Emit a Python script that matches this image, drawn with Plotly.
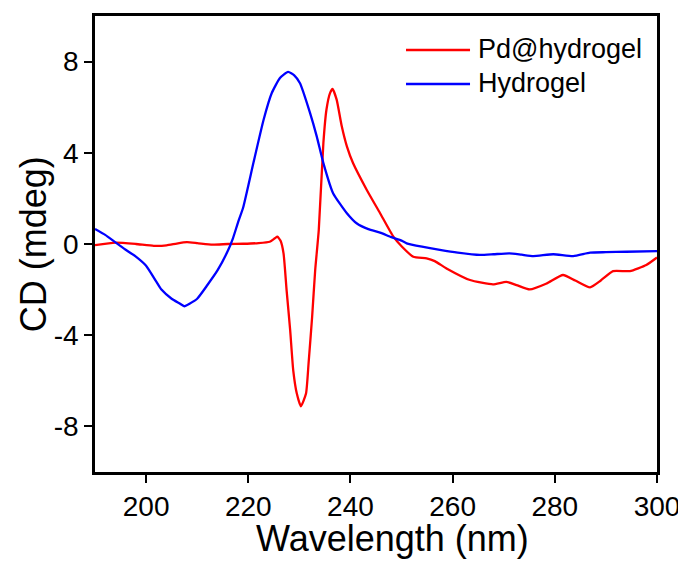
import plotly.graph_objects as go

# Wavelength (nm) and CD (mdeg) values
hydrogel_wl = [190, 192, 194, 196, 198, 200, 202, 203, 205, 206.5, 207.5, 208.5, 210, 212, 214, 216, 217,
               218, 219, 221, 223, 224.6, 226.2, 227.8, 229, 230.1, 232.1, 233.4, 234.7, 236.6, 239.3, 241.2,
               243.5, 245.8, 248, 250, 251, 254, 257.5, 261, 265.3, 268, 271.1, 273.5, 275.8, 279.7, 283.6,
               286.9, 290, 294, 300]
hydrogel_cd = [0.66, 0.40, 0.07, -0.25, -0.55, -0.95, -1.65, -2.0, -2.4, -2.6, -2.73, -2.62, -2.4, -1.8, -1.15,
               -0.3, 0.25, 0.95, 1.6, 3.55, 5.45, 6.62, 7.28, 7.55, 7.4, 7.06, 5.74, 4.72, 3.55, 2.23, 1.35, 0.91,
               0.65, 0.5, 0.3, 0.15, 0.03, -0.12, -0.26, -0.38, -0.48, -0.45, -0.41, -0.47, -0.53, -0.45, -0.53,
               -0.38, -0.36, -0.34, -0.31]

pd_wl = [190, 194, 198, 201.5, 204, 206, 208, 210, 213, 216, 219, 222, 224.2, 225.2, 225.7, 226.3, 226.9,
         227.5, 228.2, 228.8, 229.5, 230.3, 231.3, 231.8, 232.5, 233.1, 233.8, 234.7, 235.3, 236.0, 236.5,
         237.3, 238.3, 239.3, 240.5, 243.2, 245.8, 248.4, 250, 252.3, 254.9, 256.5, 258.8, 263.4, 267.9,
         270.5, 272.5, 275.1, 278.4, 281.6, 284, 286.9, 289, 291.4, 294.7, 297.9, 300]
pd_cd = [-0.05, 0.06, 0.0, -0.08, -0.06, 0.02, 0.08, 0.04, -0.03, 0.0, 0.01, 0.04, 0.1, 0.25, 0.32, 0.15, -0.41,
         -2.02, -3.78, -5.54, -6.56, -7.12, -6.56, -5.24, -3.19, -1.14, 0.62, 4.43, 5.89, 6.62, 6.8,
         6.33, 5.16, 4.28, 3.55, 2.37, 1.35, 0.32, -0.1, -0.56, -0.63, -0.75, -1.07, -1.58, -1.77,
         -1.66, -1.8, -1.99, -1.73, -1.36, -1.6, -1.9, -1.6, -1.19, -1.19, -0.92, -0.59]

x_ticks = [200, 220, 240, 260, 280, 300]
y_ticks = [-8, -4, 0, 4, 8]
y_tick_labels = ["-8", "-4", "0", "4", "8"]

series_names = ["Pd@hydrogel", "Hydrogel"]
series_colors = ["#FF0000", "#0000FF"]

FONT = "Liberation Sans, Arial, sans-serif"

fig = go.Figure()
fig.add_trace(go.Scatter(x=pd_wl, y=pd_cd, mode="lines", name=series_names[0], showlegend=False,
                         line=dict(color=series_colors[0], width=2.3, shape="spline", smoothing=0.5)))
fig.add_trace(go.Scatter(x=hydrogel_wl, y=hydrogel_cd, mode="lines", name=series_names[1], showlegend=False,
                         line=dict(color=series_colors[1], width=2.3, shape="spline", smoothing=0.5)))

axis_common = dict(showline=True, linecolor="black", linewidth=2.5, mirror=True,
                   ticks="outside", ticklen=8, tickwidth=2, tickcolor="black",
                   showgrid=False, zeroline=False, automargin=False,
                   tickfont=dict(family=FONT, size=28, color="black"))

fig.update_xaxes(range=[190, 300], tickvals=x_ticks, **axis_common)
fig.update_yaxes(range=[-10, 10], tickvals=y_ticks, ticktext=y_tick_labels, **axis_common)

fig.add_annotation(text="Wavelength (nm)", xref="paper", yref="paper", x=0.529, y=-0.145,
                   xanchor="center", yanchor="middle", showarrow=False,
                   font=dict(family=FONT, size=36, color="black"))
fig.add_annotation(text="CD (mdeg)", xref="paper", yref="paper", x=-0.110, y=0.5,
                   xanchor="center", yanchor="middle", showarrow=False, textangle=-90,
                   font=dict(family=FONT, size=36, color="black"))

# Legend drawn as line samples + labels (long sample lines as in the reference)
legend_rows_y = [0.9254, 0.8509]
for name, color, ly in zip(series_names, series_colors, legend_rows_y):
    fig.add_shape(type="line", xref="paper", yref="paper", x0=0.5534, x1=0.6673, y0=ly, y1=ly,
                  line=dict(color=color, width=2.3))
    fig.add_annotation(text=name, xref="paper", yref="paper", x=0.678, y=ly + 0.002,
                       xanchor="left", yanchor="middle", showarrow=False,
                       font=dict(family=FONT, size=27, color="black"))

fig.update_layout(
    width=678, height=555,
    margin=dict(l=87, r=29, t=8, b=91, autoexpand=False),
    plot_bgcolor="white", paper_bgcolor="white",
    font=dict(family=FONT, color="black"),
    showlegend=False,
)

fig.write_html("out.html")
